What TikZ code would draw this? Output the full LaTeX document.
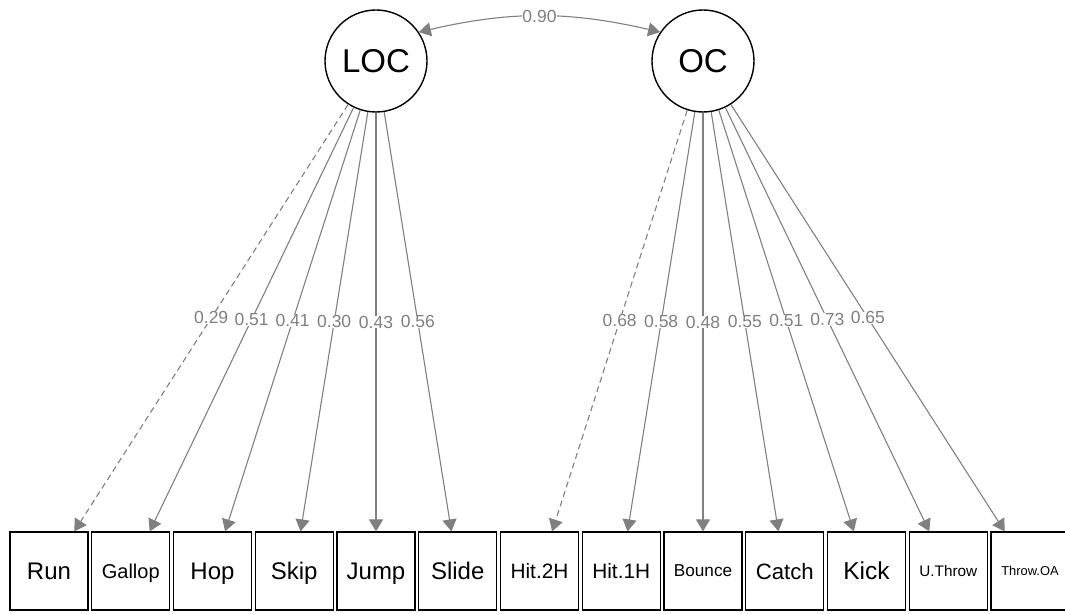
\documentclass[tikz,border=0pt]{standalone}
\usepackage{fontspec}
\setmainfont{Liberation Sans}
\usetikzlibrary{arrows.meta}
\newcommand{\fsz}[1]{\fontsize{#1pt}{#1pt}\selectfont}

\begin{document}
\begin{tikzpicture}[x=1pt,y=1pt,>={Triangle[length=12pt,width=14pt]},
    lat/.style={draw,circle,line width=1.4pt,minimum size=102pt,inner sep=0pt,font=\fsz{33}},
    obs/.style={draw,rectangle,line width=1.2pt,minimum size=78pt,inner sep=0pt,
        text depth=0pt},
    load/.style={draw=gray,line width=1.1pt,->},
    fix/.style={load,dash pattern=on 6pt off 4pt},
    lbl/.style={midway,fill=white,text=gray,inner sep=0pt,font=\fsz{17.5}}]
    \useasboundingbox (0,0) rectangle (1065,613);
    % latent factors
    \node[lat] (loc) at (376,552) {LOC};
    \node[lat] (oc) at (703,552) {OC};
    % indicators
    \node[obs,font=\fsz{24}] (run) at (49,42) {Run};
    \node[obs,font=\fsz{20}] (gallop) at (130.75,42) {Gallop};
    \node[obs,font=\fsz{24}] (hop) at (212.5,42) {Hop};
    \node[obs,font=\fsz{24}] (skip) at (294.25,42) {Skip};
    \node[obs,font=\fsz{24}] (jump) at (376,42) {Jump};
    \node[obs,font=\fsz{24}] (slide) at (457.75,42) {Slide};
    \node[obs,font=\fsz{20.8}] (hittwo) at (539.5,42) {Hit.2H};
    \node[obs,font=\fsz{20.8}] (hitone) at (621.25,42) {Hit.1H};
    \node[obs,font=\fsz{17.2}] (bounce) at (703,42) {Bounce};
    \node[obs,font=\fsz{22.2}] (catch) at (784.75,42) {Catch};
    \node[obs,font=\fsz{24.5}] (kick) at (866.5,42) {Kick};
    \node[obs,font=\fsz{15.3}] (uthrow) at (948.25,42) {U.Throw};
    \node[obs,font=\fsz{12.9}] (throwoa) at (1030,42) {Throw.OA};
    % loadings
    \draw[fix] (loc) -- node[lbl] {0.29} (run);
    \draw[load] (loc) -- node[lbl] {0.51} (gallop);
    \draw[load] (loc) -- node[lbl] {0.41} (hop);
    \draw[load] (loc) -- node[lbl] {0.30} (skip);
    \draw[load] (loc) -- node[lbl] {0.43} (jump);
    \draw[load] (loc) -- node[lbl] {0.56} (slide);
    \draw[fix] (oc) -- node[lbl] {0.68} (hittwo);
    \draw[load] (oc) -- node[lbl] {0.58} (hitone);
    \draw[load] (oc) -- node[lbl] {0.48} (bounce);
    \draw[load] (oc) -- node[lbl] {0.55} (catch);
    \draw[load] (oc) -- node[lbl] {0.51} (kick);
    \draw[load] (oc) -- node[lbl] {0.73} (uthrow);
    \draw[load] (oc) -- node[lbl] {0.65} (throwoa);
    % factor covariance
    \draw[load,<->] (loc.34) to[out=13,in=167] node[lbl] {0.90} (oc.146);
\end{tikzpicture}
\end{document}
